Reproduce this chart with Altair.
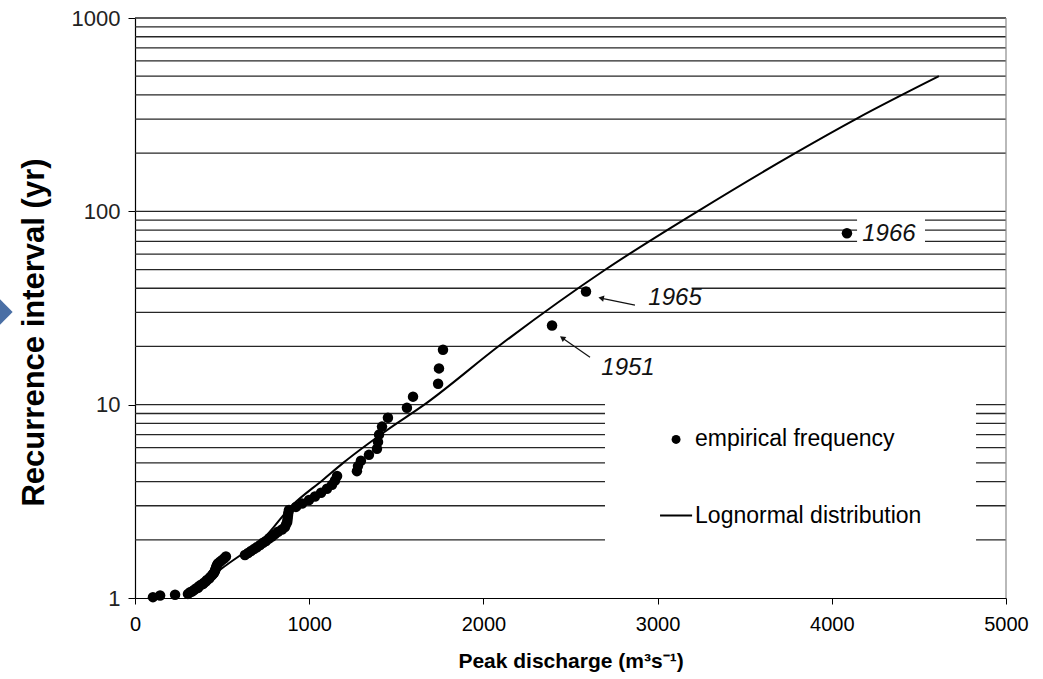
import altair as alt
import pandas as pd

# ---------------- data ----------------
# empirical points (rank order, largest first)
recurrence = [77.0, 38.5, 25.67, 19.25, 15.4, 12.83, 11.0, 9.63, 8.56, 7.7,
              7.0, 6.42, 5.92, 5.5, 5.13, 4.81, 4.53, 4.28, 4.05, 3.85,
              3.67, 3.5, 3.35, 3.21, 3.08, 2.96, 2.85, 2.75, 2.66, 2.57,
              2.48, 2.41, 2.33, 2.26, 2.2, 2.14, 2.08, 2.03, 1.97, 1.93,
              1.88, 1.83, 1.79, 1.75, 1.71, 1.67, 1.64, 1.6, 1.57, 1.54,
              1.51, 1.48, 1.45, 1.43, 1.4, 1.38, 1.35, 1.33, 1.31, 1.28,
              1.26, 1.24, 1.22, 1.2, 1.18, 1.17, 1.15, 1.13, 1.12, 1.1,
              1.08, 1.07, 1.05, 1.04, 1.03, 1.01]
discharge = [4087, 2589, 2394, 1768, 1745, 1740, 1596, 1561, 1452, 1418,
             1401, 1395, 1389, 1343, 1297, 1280, 1274, 1160, 1148, 1131,
             1102, 1068, 1033, 999, 959, 924, 884, 880, 878, 876,
             874, 868, 861, 844, 821, 804, 786, 769, 752, 735,
             718, 700, 683, 666, 649, 631, 522, 511, 499, 488,
             476, 471, 467, 465, 461, 459, 454, 448, 442, 431,
             425, 413, 408, 396, 390, 379, 367, 362, 350, 339,
             327, 316, 304, 230, 144, 103]

# lognormal distribution curve
curve_x = [290, 400, 498, 632, 730, 900, 1080, 1195, 1448, 1661, 2098, 2701,
           3230, 3790, 4138, 4615]
curve_T = [1.02, 1.2, 1.42, 1.73, 2.0, 3.0, 4.09, 5.0, 7.4, 10.0, 20.4, 50,
           100, 200, 300, 500]

# horizontal grid lines (log minor grid)
grid_values = [2, 3, 4, 5, 6, 7, 8, 9, 10, 20, 30, 40, 50, 60, 70, 80, 90,
               100, 200, 300, 400, 500, 600, 700, 800, 900, 1000]
y_ticks = [1, 10, 100, 1000]
x_ticks = [0, 1000, 2000, 3000, 4000, 5000]

# year annotations
ann_year = ["1966", "1965", "1951"]
ann_x = [4328, 3100, 2830]
ann_T = [76.1, 35.5, 15.4]

# arrows (tail -> head)
arrow_x = [2870, 2612]
arrow_T = [32.7, 17.6]
arrow_x2 = [2681, 2457]
arrow_T2 = [35.5, 22.0]
arrow_angle = [282, 305]

# white backgrounds behind legend and labels
box_x = [2698, 4145, 2610]
box_x2 = [4828, 4535, 3195]
box_T = [1.01, 62.6, 33.0]
box_T2 = [10.6, 94.0, 41.5]

# legend
leg_labels = ["empirical frequency", "Lognormal distribution"]
leg_x_sym = [3106, 3014]
leg_x_sym2 = [3106, 3198]
leg_x_txt = [3215, 3215]
leg_T = [6.61, 2.67]

# ---------------- chart ----------------
W, H = 871, 580
FONT = "Liberation Sans, Arial"

xs = alt.Scale(domain=[0, 5000], nice=False, zero=False)
ys = alt.Scale(type="log", domain=[1, 1000], nice=False)

x_axis = alt.Axis(values=x_ticks, title="Peak discharge (m³s⁻¹)", format="d",
                  labelFont=FONT, labelFontSize=20, labelColor="black",
                  titleFont=FONT, titleFontSize=21, titleFontWeight="bold",
                  titleColor="black", tickColor="black", tickSize=6,
                  domainColor="black", domainWidth=1.2, labelPadding=10,
                  titlePadding=16, grid=False, labelFlush=False)
y_axis = alt.Axis(values=y_ticks, title="Recurrence interval (yr)", format="d",
                  labelFont=FONT, labelFontSize=22, labelColor="#222",
                  titleFont=FONT, titleFontSize=31, titleFontWeight="bold",
                  titleColor="black", tickColor="black", tickSize=7,
                  domainColor="black", domainWidth=1.2, labelPadding=8,
                  titlePadding=21, grid=False, titleY=314)

X = lambda f: alt.X(f, scale=xs, axis=x_axis, title="Peak discharge (m³s⁻¹)")
Y = lambda f: alt.Y(f, scale=ys, axis=y_axis, title="Recurrence interval (yr)")

grid_df = pd.DataFrame({"x": [0] * len(grid_values), "x2": [5000] * len(grid_values),
                        "T": grid_values})
grid = alt.Chart(grid_df).mark_rule(color="#262626", strokeWidth=1.3).encode(
    x=X("x:Q"), x2="x2:Q", y=Y("T:Q"))

border = alt.Chart(pd.DataFrame({"x": [5000], "T": [1], "T2": [1000]})).mark_rule(
    color="#8a8a8a", strokeWidth=1.2).encode(x=X("x:Q"), y=Y("T:Q"), y2="T2:Q")

box_df = pd.DataFrame({"x": box_x, "x2": box_x2, "T": box_T, "T2": box_T2})
boxes = alt.Chart(box_df).mark_rect(color="white").encode(
    x=X("x:Q"), x2="x2:Q", y=Y("T:Q"), y2="T2:Q")

curve_df = pd.DataFrame({"x": curve_x, "T": curve_T})
curve = alt.Chart(curve_df).mark_line(color="black", strokeWidth=2,
                                      interpolate="monotone").encode(
    x=X("x:Q"), y=Y("T:Q"), order="x:Q")

pts_df = pd.DataFrame({"x": discharge, "T": recurrence})
pts = alt.Chart(pts_df).mark_point(filled=True, color="black", size=110,
                                   opacity=1).encode(x=X("x:Q"), y=Y("T:Q"))

ann_df = pd.DataFrame({"x": ann_x, "T": ann_T, "label": ann_year})
ann = alt.Chart(ann_df).mark_text(font=FONT, fontSize=24, fontStyle="italic",
                                  color="#111", align="center",
                                  baseline="middle").encode(
    x=X("x:Q"), y=Y("T:Q"), text="label:N")

arr_df = pd.DataFrame({"x": arrow_x, "T": arrow_T, "x2": arrow_x2,
                       "T2": arrow_T2, "angle": arrow_angle})
arr_lines = alt.Chart(arr_df).mark_rule(color="#111", strokeWidth=1.2).encode(
    x=X("x:Q"), y=Y("T:Q"), x2="x2:Q", y2="T2:Q")
arr_heads = alt.Chart(arr_df).mark_point(shape="triangle", filled=True,
                                         color="#111", size=40, opacity=1).encode(
    x=X("x2:Q"), y=Y("T2:Q"), angle=alt.Angle("angle:Q", scale=None))

leg_df = pd.DataFrame({"x": leg_x_sym, "x2": leg_x_sym2, "xt": leg_x_txt,
                       "T": leg_T, "label": leg_labels})
leg_dot = alt.Chart(leg_df.iloc[[0]]).mark_point(filled=True, color="black",
                                                 size=80, opacity=1).encode(
    x=X("x:Q"), y=Y("T:Q"))
leg_line = alt.Chart(leg_df.iloc[[1]]).mark_rule(color="black",
                                                 strokeWidth=2).encode(
    x=X("x:Q"), x2="x2:Q", y=Y("T:Q"))
leg_txt = alt.Chart(leg_df).mark_text(font=FONT, fontSize=23, color="black",
                                      align="left", baseline="middle").encode(
    x=X("xt:Q"), y=Y("T:Q"), text="label:N")

# slide decoration at the left edge
deco = alt.Chart(pd.DataFrame({"k": [0]})).mark_point(
    shape="diamond", filled=True, color="#4a6fa5", size=640, opacity=1).encode(
    x=alt.value(-135), y=alt.value(294))

chart = alt.layer(grid, border, boxes, curve, pts, arr_lines, arr_heads, ann,
                  leg_dot, leg_line, leg_txt, deco).properties(
    width=W, height=H,
    autosize=alt.AutoSizeParams(type="none"),
    padding={"left": 135, "top": 18, "right": 37, "bottom": 81},
    background="white",
).configure_view(stroke=None)

chart.save("out.html", embed_options={"renderer": "svg", "actions": False})
